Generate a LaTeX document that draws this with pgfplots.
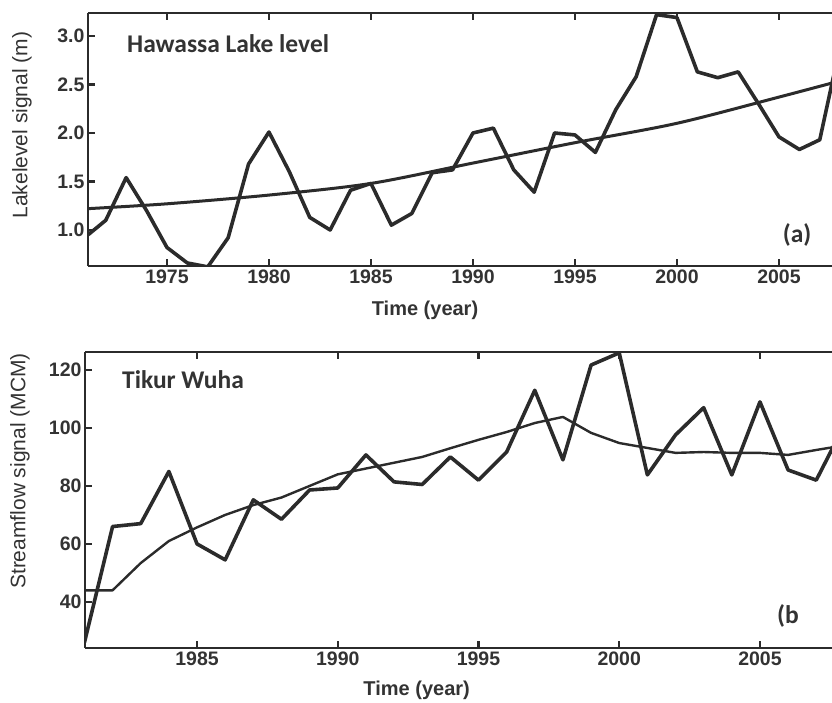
\documentclass[border=0pt]{standalone}
\usepackage{pgfplots}
\pgfplotsset{compat=1.18}
\usepackage{fontspec}
\setmainfont{Liberation Sans}
\newfontfamily\calfont{Carlito}
\definecolor{ink}{HTML}{2B2B2B}
\definecolor{txt}{HTML}{333333}

\pgfplotstableread{
year val
1971.13 0.95
1972 1.10
1973 1.54
1974 1.20
1975 0.82
1976 0.66
1977 0.62
1978 0.92
1979 1.68
1980 2.01
1981 1.60
1982 1.13
1983 1.00
1984 1.41
1985 1.48
1986 1.05
1987 1.17
1988 1.59
1989 1.62
1990 2.00
1991 2.05
1992 1.62
1993 1.39
1994 2.00
1995 1.98
1996 1.80
1997 2.24
1998 2.58
1999 3.22
2000 3.19
2001 2.63
2002 2.57
2003 2.63
2004 2.30
2005 1.96
2006 1.83
2007 1.93
2008 2.90
}\lake

\pgfplotstableread{
year val
1971.13 1.22
1975 1.27
1980 1.36
1985 1.48
1990 1.69
1995 1.90
2000 2.10
2005 2.37
2008.4 2.56
}\laketrend

\pgfplotstableread{
year val
1981 26
1982 66
1983 67
1984 85
1985 60
1986 54.5
1987 75.2
1988 68.5
1989 78.6
1990 79.3
1991 90.7
1992 81.4
1993 80.5
1994 90
1995 82
1996 91.7
1997 113
1998 89
1999 121.7
2000 125.9
2001 83.8
2002 97.6
2003 107
2004 83.8
2005 109
2006 85.5
2007 82
2008 101
}\flow

\pgfplotstableread{
year val
1981 44
1982 44
1983 53.4
1984 61
1985 65.7
1986 70
1987 73.4
1988 76
1989 80
1990 84
1991 86
1992 88
1993 90
1994 93
1995 95.9
1996 98.6
1997 101.7
1998 103.8
1999 98.3
2000 94.8
2001 93.1
2002 91.4
2003 91.7
2004 91.4
2005 91.4
2006 90.7
2007 92.4
2008 94
}\flowtrend

\tikzset{
  paneltext/.style={font=\calfont\fontsize{25.5}{27}\selectfont\bfseries, text=txt, inner sep=0pt},
  dataline/.style={ink, line width=3.6pt, line join=round},
}

\begin{document}
\begin{tikzpicture}
\path[use as bounding box] (0pt,0pt) rectangle (832pt,703pt);
\pgfplotsset{
  every axis/.append style={
    scale only axis,
    axis x line*=box,
    axis y line*=left,
    axis line style={ink, line width=2.6pt, -},
    tick style={ink, line width=2.2pt},
    major tick length=7pt,
    tick align=inside,
    xtick pos=both, ytick pos=left,
    /pgf/number format/assume math mode=true,
    /pgf/number format/1000 sep={},
    ticklabel style={font=\fontsize{19.5}{21}\selectfont\bfseries, text=txt},
    label style={text=txt},
    xlabel style={font=\fontsize{20}{22}\selectfont\bfseries, anchor=center},
    ylabel style={font=\fontsize{21}{23}\selectfont, anchor=center},
  },
}
% top panel
\begin{axis}[
  at={(88pt,437pt)}, anchor=south west,
  width=744pt, height=253pt,
  xmin=1971.13, xmax=2007.60,
  ymin=0.629, ymax=3.237,
  xtick={1975,1980,...,2005},
  ytick={1.0,1.5,2.0,2.5,3.0},
  yticklabel style={/pgf/number format/fixed, /pgf/number format/fixed zerofill, /pgf/number format/precision=1},
  xlabel={Time (year)},
  xlabel style={at={(axis description cs:0.453,-0.174)}},
  ylabel={Lakelevel signal (m)},
  ylabel style={at={(axis description cs:-0.0887,0.557)}},
]
\addplot[dataline] table[x=year,y=val]{\lake};
\addplot[ink, line width=3pt, smooth] table[x=year,y=val]{\laketrend};
\node[anchor=base west, paneltext] at (axis description cs:0.0524,0.842) {Hawassa Lake level};
\node[anchor=center, paneltext] at (axis description cs:0.953,0.1225) {(a)};
\end{axis}
% bottom panel
\begin{axis}[
  at={(85pt,55pt)}, anchor=south west,
  width=747pt, height=296pt,
  xmin=1981.02, xmax=2007.56,
  ymin=24.1, ymax=126.2,
  xtick={1985,1990,...,2005},
  ytick={40,60,...,120},
  xlabel={Time (year)},
  xlabel style={at={(axis description cs:0.444,-0.142)}},
  ylabel={Streamflow signal (MCM)},
  ylabel style={at={(axis description cs:-0.087,0.598)}},
]
\addplot[dataline] table[x=year,y=val]{\flow};
\addplot[ink, line width=2.4pt, line join=round] table[x=year,y=val]{\flowtrend};
\node[anchor=base west, paneltext] at (axis description cs:0.0495,0.875) {Tikur Wuha};
\node[anchor=center, paneltext] at (axis description cs:0.941,0.108) {(b};
\end{axis}
\end{tikzpicture}
\end{document}
